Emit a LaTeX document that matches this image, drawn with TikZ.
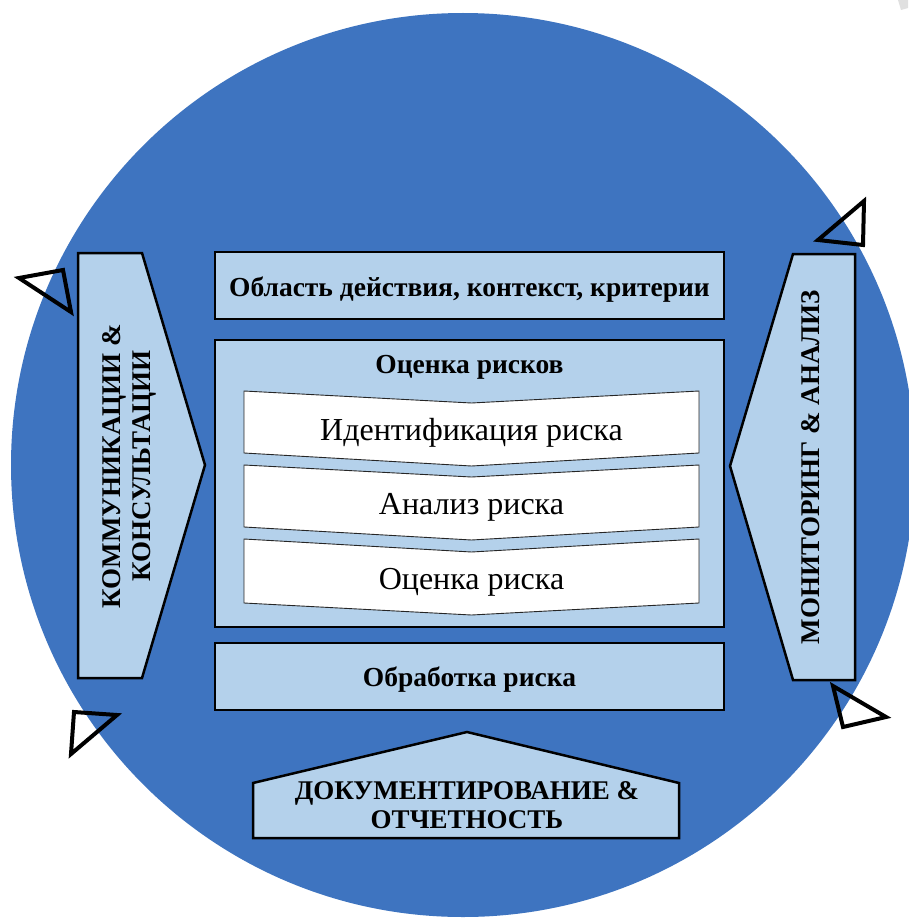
\documentclass[tikz,border=0pt]{standalone}
\usepackage{fontspec}
\setmainfont{Liberation Serif}
\definecolor{cblue}{RGB}{62,116,192}
\definecolor{lblue}{RGB}{180,209,235}
\begin{document}
\begin{tikzpicture}[x=1pt,y=-1pt,
  lbox/.style={fill=lblue,draw=black,line width=2.5pt,line join=miter},
  chev/.style={fill=white,draw=black!85,line width=0.9pt,line join=miter},
  tri/.style={draw=black,line width=4pt,line join=miter},
  bold/.style={font=\fontsize{27.5}{30}\selectfont\bfseries,inner sep=0pt},
  boldcaps/.style={font=\fontsize{27}{30}\selectfont\bfseries,inner sep=0pt},
  reg/.style={font=\fontsize{32}{36}\selectfont,inner sep=0pt}]
\useasboundingbox (0,0) rectangle (908,920);
\fill[white] (0,0) rectangle (908,920);
\fill[cblue] (463,465) circle (452pt);
\fill[black!12] (898,0) -- (908,0) -- (908,8) -- (901,10) -- cycle;
% left pentagon
\draw[lbox] (78,253) -- (142,253) -- (205,465) -- (142,678) -- (78,678) -- cycle;
\node[boldcaps,rotate=90,align=center] (komm) at (129,466) {КОММУНИКАЦИИ \&\\КОНСУЛЬТАЦИИ};
% right pentagon
\draw[lbox] (855,254) -- (793,254) -- (730,466) -- (793,680) -- (855,680) -- cycle;
\node[boldcaps,rotate=90] (mon) at (811,467) {МОНИТОРИНГ \& АНАЛИЗ};
% top box
\draw[lbox] (215,252) rectangle (724,319);
\node[bold] (obl) at (469.5,289.5) {Область действия, контекст, критерии};
% big box
\draw[lbox] (215,340) rectangle (724,627);
\node[bold] (ocr) at (469.5,367.5) {Оценка рисков};
% chevrons
\draw[chev] (244,391) -- (471.5,403) -- (699,391) -- (699,453) -- (471.5,466) -- (244,453) -- cycle;
\draw[chev] (244,465) -- (471.5,477) -- (699,465) -- (699,527) -- (471.5,540) -- (244,527) -- cycle;
\draw[chev] (244,539) -- (471.5,552) -- (699,539) -- (699,603) -- (471.5,615) -- (244,603) -- cycle;
\node[reg] (ident) at (471.5,433) {Идентификация риска};
\node[reg] (anal) at (471.5,507) {Анализ риска};
\node[reg] (ocrisk) at (471.5,582) {Оценка риска};
% bottom box
\draw[lbox] (215,643) rectangle (724,710);
\node[bold] (obr) at (469.5,679.5) {Обработка риска};
% documentation pentagon
\draw[lbox] (253,838) -- (253,783) -- (467,732) -- (679,783) -- (679,838) -- cycle;
\node[boldcaps,align=center,font=\fontsize{27}{29}\selectfont\bfseries] (doc) at (467,805) {ДОКУМЕНТИРОВАНИЕ \&\\ОТЧЕТНОСТЬ};
% triangles
\draw[tri] (19,278) -- (63,270) -- (71,312) -- cycle;
\draw[tri] (818,240) -- (864,201) -- (863,245) -- cycle;
\draw[tri] (74,712) -- (117,715) -- (71,754) -- cycle;
\draw[tri] (833,686) -- (886,717) -- (843,727) -- cycle;
\end{tikzpicture}
\end{document}
